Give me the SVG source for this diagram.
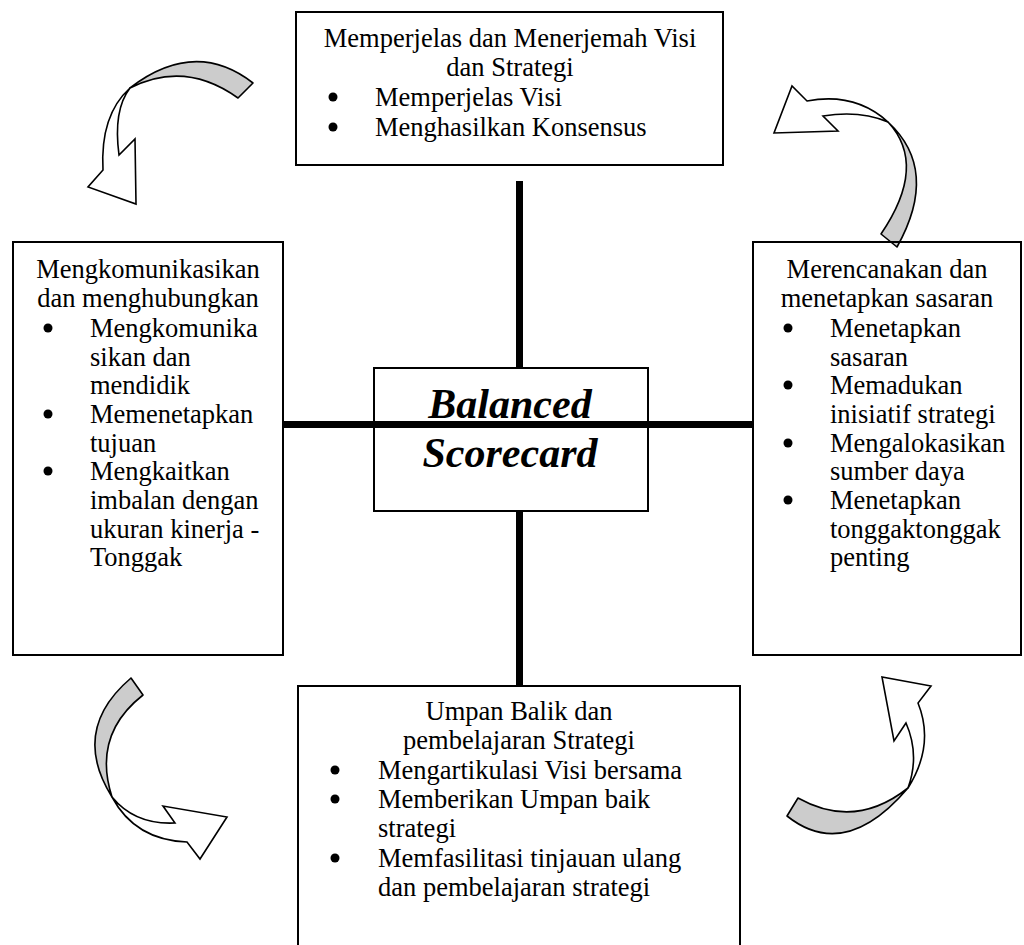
<svg xmlns="http://www.w3.org/2000/svg" width="1024" height="945" viewBox="0 0 1024 945">
<style>
.box{fill:none;stroke:#000;stroke-width:2}
.bar{stroke:#000;stroke-width:7;fill:none}
.t{font-family:"Liberation Serif","Times New Roman",serif;font-size:26.5px;fill:#000}
.c{text-anchor:middle}
.dot{fill:#000}
.big{font-family:"Liberation Serif","Times New Roman",serif;font-size:42px;font-weight:bold;font-style:italic;text-anchor:middle;fill:#000}
.g{fill:#cccccc;stroke:#000;stroke-width:1.6;stroke-linejoin:round}
.w{fill:#fff;stroke:#000;stroke-width:1.6;stroke-linejoin:miter}
</style>
<rect width="1024" height="945" fill="#fff"/>
<g id="connectors">
<line class="bar" x1="519.5" y1="181" x2="519.5" y2="368"/>
<line class="bar" x1="519.5" y1="511" x2="519.5" y2="686"/>
<line class="bar" x1="283" y1="424.5" x2="752" y2="424.5"/>
</g>
<g id="arrow-top-left">
<path class="g" d="M253,83 Q195,38 130,88 Q185,60 238,98 Z"/>
<path class="w" d="M130,88 Q100,115 103,170 L88,187 L136,204 L135,139 L119,155 Q113,110 130,88 Z"/>
</g>
<g id="arrow-top-right">
<path class="g" d="M897,247 Q940,170 888,122 Q928,165 881,234 Z"/>
<path class="w" d="M888,122 Q855,92 807,101 L792,86 L774,133 L838,131 L823,116 Q860,110 888,122 Z"/>
</g>
<g id="arrow-bottom-left">
<path class="g" d="M131,678 Q70,730 112,797 Q92,735 143,695 Z"/>
<path class="w" d="M112,797 Q135,840 187,842 L200,859 L227,817 L163,806 L175,823 Q135,825 112,797 Z"/>
</g>
<g id="arrow-bottom-right">
<path class="g" d="M787,816 Q845,862 908,788 Q855,830 798,798 Z"/>
<path class="w" d="M908,788 Q935,745 918,703 L931,686 L882,677 L894,741 L906,723 Q920,755 908,788 Z"/>
</g>
<g id="node-top">
<rect class="box" x="296" y="12" width="427" height="153" fill="#fff"/>
<text class="t c" x="510" y="47">Memperjelas dan Menerjemah Visi</text>
<text class="t c" x="510" y="76">dan Strategi</text>
<circle class="dot" cx="333" cy="97" r="4.5"/>
<text class="t" x="375" y="106">Memperjelas Visi</text>
<circle class="dot" cx="333" cy="127" r="4.5"/>
<text class="t" x="375" y="136">Menghasilkan Konsensus</text>
</g>
<g id="node-left">
<rect class="box" x="13" y="242" width="270" height="413"/>
<text class="t c" x="148" y="278">Mengkomunikasikan</text>
<text class="t c" x="148" y="307">dan menghubungkan</text>
<circle class="dot" cx="48" cy="328" r="4.5"/>
<text class="t" x="90" y="337">Mengkomunika</text>
<text class="t" x="90" y="366">sikan dan</text>
<text class="t" x="90" y="394">mendidik</text>
<circle class="dot" cx="48" cy="414" r="4.5"/>
<text class="t" x="90" y="423">Memenetapkan</text>
<text class="t" x="90" y="452">tujuan</text>
<circle class="dot" cx="48" cy="471" r="4.5"/>
<text class="t" x="90" y="480">Mengkaitkan</text>
<text class="t" x="90" y="509">imbalan dengan</text>
<text class="t" x="90" y="538">ukuran kinerja -</text>
<text class="t" x="90" y="566">Tonggak</text>
</g>
<g id="node-right">
<rect class="box" x="753" y="242" width="268" height="413"/>
<text class="t c" x="887" y="278">Merencanakan dan</text>
<text class="t c" x="887" y="307">menetapkan sasaran</text>
<circle class="dot" cx="788" cy="328" r="4.5"/>
<text class="t" x="830" y="337">Menetapkan</text>
<text class="t" x="830" y="366">sasaran</text>
<circle class="dot" cx="788" cy="385" r="4.5"/>
<text class="t" x="830" y="394">Memadukan</text>
<text class="t" x="830" y="423">inisiatif strategi</text>
<circle class="dot" cx="788" cy="443" r="4.5"/>
<text class="t" x="830" y="452">Mengalokasikan</text>
<text class="t" x="830" y="480">sumber daya</text>
<circle class="dot" cx="788" cy="500" r="4.5"/>
<text class="t" x="830" y="509">Menetapkan</text>
<text class="t" x="830" y="538">tonggaktonggak</text>
<text class="t" x="830" y="566">penting</text>
</g>
<g id="node-center">
<rect class="box" x="374" y="368" width="274" height="143"/>
<text class="big" x="510" y="418">Balanced</text>
<text class="big" x="510" y="467">Scorecard</text>
</g>
<g id="node-bottom">
<path class="box" d="M298,946 V686 H740 V946"/>
<text class="t c" x="519" y="720">Umpan Balik dan</text>
<text class="t c" x="519" y="749">pembelajaran Strategi</text>
<circle class="dot" cx="335" cy="770" r="4.5"/>
<text class="t" x="378" y="779">Mengartikulasi Visi bersama</text>
<circle class="dot" cx="335" cy="799" r="4.5"/>
<text class="t" x="378" y="808">Memberikan Umpan baik</text>
<text class="t" x="378" y="837">strategi</text>
<circle class="dot" cx="335" cy="858" r="4.5"/>
<text class="t" x="378" y="867">Memfasilitasi tinjauan ulang</text>
<text class="t" x="378" y="896">dan pembelajaran strategi</text>
</g>
</svg>
